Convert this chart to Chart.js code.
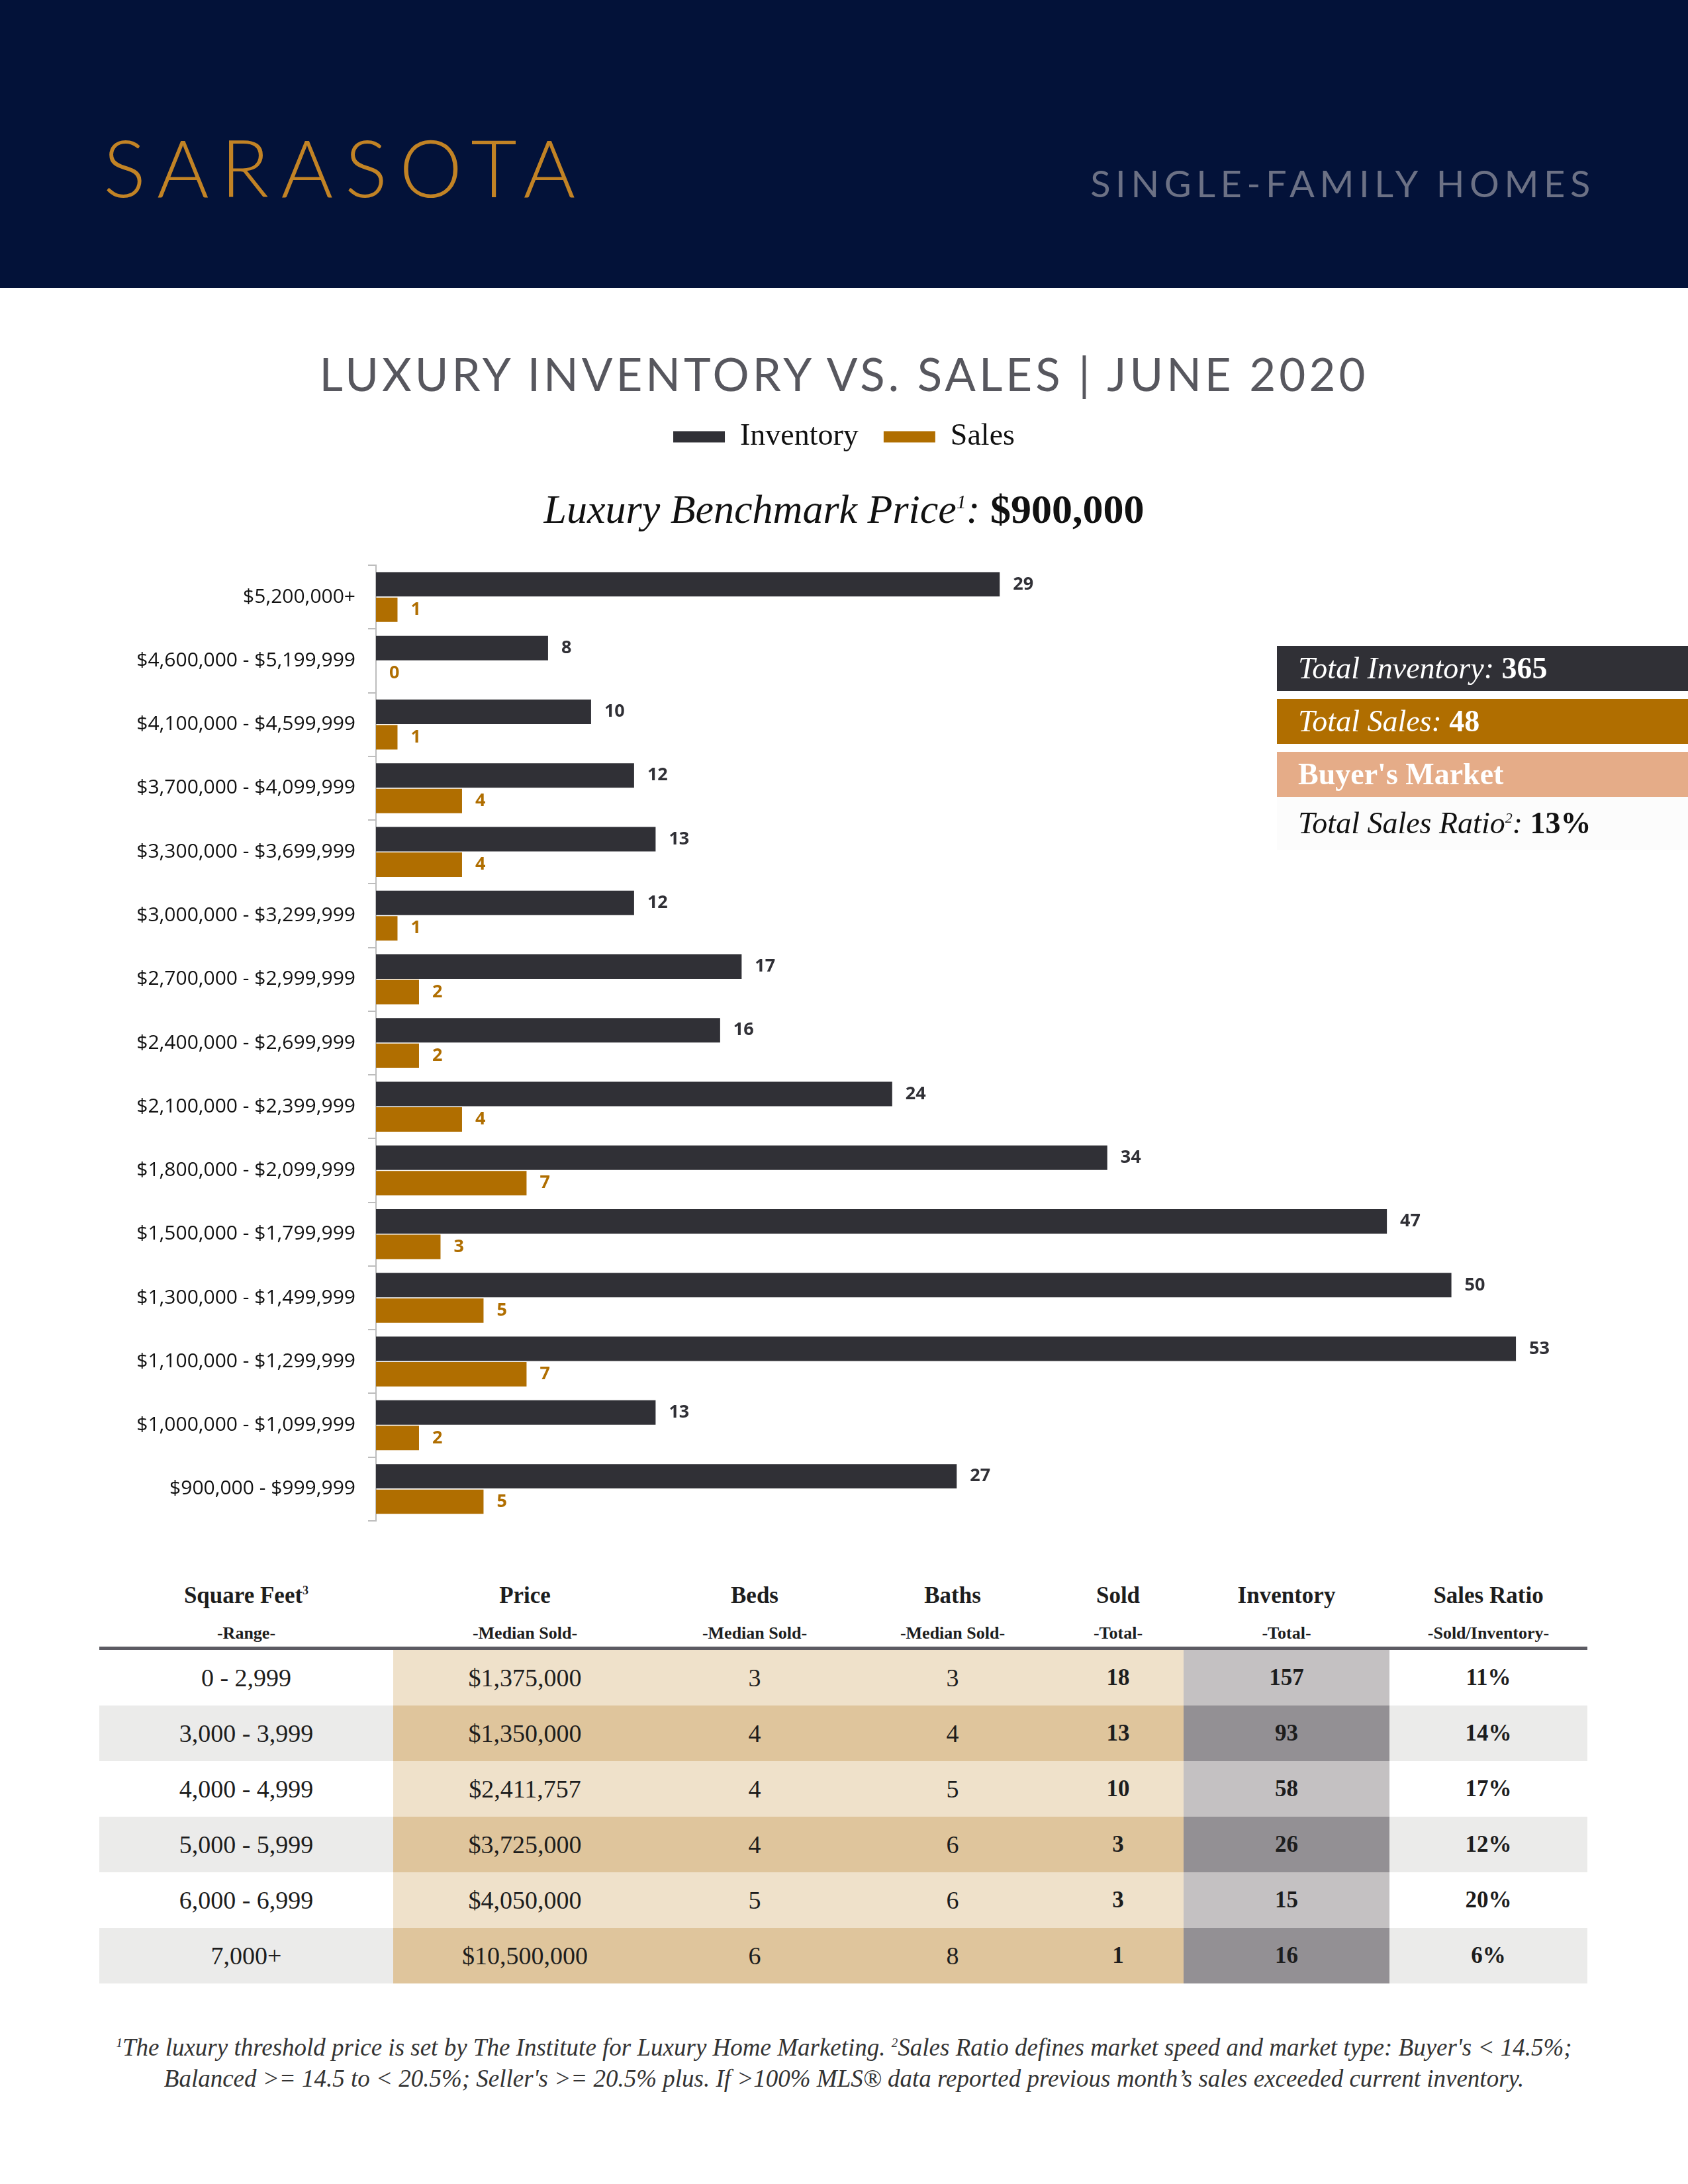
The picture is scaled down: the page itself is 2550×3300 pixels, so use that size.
<!DOCTYPE html>
<html lang="en">
<head>
<meta charset="UTF-8">
<title>Sarasota Luxury Inventory vs. Sales</title>
<script src="https://cdn.jsdelivr.net/npm/chart.js"></script>
<style>
  html, body { margin: 0; padding: 0; background: #fff; }
  #page { position: relative; width: 2550px; height: 3300px; overflow: hidden; background: #fff; }
  .abs { position: absolute; white-space: nowrap; }
  #banner { left: 0; top: 0; width: 2550px; height: 435px; background: #031239; }
  #city { left: 156px; top: 192px; font: 300 120px/120px Lato, sans-serif; letter-spacing: 18px; color: #C28325; }
  #kind { right: 140px; top: 249px; font: 400 56px/56px Lato, sans-serif; letter-spacing: 7.6px; color: #6C7185; }
  #title { left: 0; width: 2550px; text-align: center; top: 530px; font: 400 69px/69px Lato, sans-serif; letter-spacing: 5px; color: #57575E; }
  #bench { left: 0; width: 2550px; text-align: center; top: 738px; font: italic 62px/62px "Liberation Serif", serif; color: #111; }
  #bench b { font-style: normal; font-weight: 700; }
  #bench sup { font-size: 30px; line-height: 0; }
  #chart { position: absolute; left: 0; top: 599px; }
  #stats { left: 1929px; top: 976px; width: 621px; }
  #stats div { height: 68px; line-height: 68px; padding-left: 32px; margin-bottom: 12px; font: italic 46px/68px "Liberation Serif", serif; color: #fff; }
  #stats b { font-style: normal; font-weight: 700; }
  #stats sup { font-size: 22px; line-height: 0; }
  #table { left: 150px; top: 2370px; border-collapse: collapse; table-layout: fixed; }
  #table td, #table th { padding: 0; text-align: center; font-family: "Liberation Serif", serif; color: #1d1d1d; }
  #table th { border-bottom: 5px solid #5C5B63; vertical-align: top; }
  #table th .h1 { margin-top: 13px; height: 56px; line-height: 56px; font-size: 35px; font-weight: 700; }
  #table th .h1 sup { font-size: 18px; line-height: 0; }
  #table th .h2 { margin-top: 9px; height: 40px; line-height: 40px; font-size: 26px; font-weight: 700; margin-bottom: 0; }
  #table td { height: 84px; font-size: 38px; }
  #table td.bold { font-weight: 700; font-size: 35px; }
  #notes { left: 0; width: 2550px; text-align: center; top: 3070px; font: italic 37px/47px "Liberation Serif", serif; color: #333; }
  #notes sup { font-size: 19px; line-height: 0; }
</style>
</head>
<body>
<div id="page">
  <div id="banner" class="abs"></div>
  <div id="city" class="abs">SARASOTA</div>
  <div id="kind" class="abs">SINGLE-FAMILY HOMES</div>
  <div id="title" class="abs">LUXURY INVENTORY VS. SALES | JUNE 2020</div>
  <canvas id="chart" width="2550" height="1736"></canvas>
  <div id="bench" class="abs">Luxury Benchmark Price<sup>1</sup>: <b>$900,000</b></div>
  <div id="stats" class="abs"></div>
  <table id="table" class="abs"></table>
  <div id="notes" class="abs"><sup>1</sup>The luxury threshold price is set by The Institute for Luxury Home Marketing. <sup>2</sup>Sales Ratio defines market speed and market type: Buyer's &lt; 14.5%;<br>Balanced &gt;= 14.5 to &lt; 20.5%; Seller's &gt;= 20.5% plus. If &gt;100% MLS® data reported previous month’s sales exceeded current inventory.</div>
</div>

<script>
// price bands, top of chart first
const priceRanges = [
  "$5,200,000+", "$4,600,000 - $5,199,999", "$4,100,000 - $4,599,999",
  "$3,700,000 - $4,099,999", "$3,300,000 - $3,699,999", "$3,000,000 - $3,299,999",
  "$2,700,000 - $2,999,999", "$2,400,000 - $2,699,999", "$2,100,000 - $2,399,999",
  "$1,800,000 - $2,099,999", "$1,500,000 - $1,799,999", "$1,300,000 - $1,499,999",
  "$1,100,000 - $1,299,999", "$1,000,000 - $1,099,999", "$900,000 - $999,999"
];
const inventory = [29, 8, 10, 12, 13, 12, 17, 16, 24, 34, 47, 50, 53, 13, 27];
const sales     = [1, 0, 1, 4, 4, 1, 2, 2, 4, 7, 3, 5, 7, 2, 5];

// summary box
const totalInventory = 365;
const totalSales = 48;
const marketType = "Buyer's Market";
const totalRatio = "13%";

// square footage table
const sqftRanges   = ["0 - 2,999", "3,000 - 3,999", "4,000 - 4,999", "5,000 - 5,999", "6,000 - 6,999", "7,000+"];
const medianPrice  = ["$1,375,000", "$1,350,000", "$2,411,757", "$3,725,000", "$4,050,000", "$10,500,000"];
const medianBeds   = [3, 4, 4, 4, 5, 6];
const medianBaths  = [3, 4, 5, 6, 6, 8];
const soldTotal    = [18, 13, 10, 3, 3, 1];
const invTotal     = [157, 93, 58, 26, 15, 16];
const salesRatio   = ["11%", "14%", "17%", "12%", "20%", "6%"];

const INV_COLOR = '#303036';
const SALES_COLOR = '#B06E00';

// summary box
document.getElementById('stats').innerHTML =
  `<div style="background:${INV_COLOR}">Total Inventory: <b>${totalInventory}</b></div>` +
  `<div style="background:${SALES_COLOR}">Total Sales: <b>${totalSales}</b></div>` +
  `<div style="background:#E5AC88;font-style:normal;font-weight:700">${marketType}</div>` +
  `<div style="background:#FCFCFC;color:#111;margin-top:-12px;height:80px;line-height:80px">Total Sales Ratio<sup>2</sup>: <b>${totalRatio}</b></div>`;

// table
const colWidths = [444, 398, 296, 302, 198, 311, 299];
const heads = [["Square Feet<sup>3</sup>", "-Range-"], ["Price", "-Median Sold-"], ["Beds", "-Median Sold-"],
               ["Baths", "-Median Sold-"], ["Sold", "-Total-"], ["Inventory", "-Total-"], ["Sales Ratio", "-Sold/Inventory-"]];
const shades = [["#FFFFFF", "#EBEBEA"], ["#EFE1CA", "#DFC59C"], ["#EFE1CA", "#DFC59C"], ["#EFE1CA", "#DFC59C"],
                ["#EFE1CA", "#DFC59C"], ["#C4C1C2", "#939094"], ["#FFFFFF", "#EBEBEA"]];
let html = '<colgroup>' + colWidths.map(w => `<col style="width:${w}px">`).join('') + '</colgroup><tr>';
html += heads.map(h => `<th><div class="h1">${h[0]}</div><div class="h2">${h[1]}</div></th>`).join('') + '</tr>';
sqftRanges.forEach((r, i) => {
  const cells = [r, medianPrice[i], medianBeds[i], medianBaths[i], soldTotal[i], invTotal[i], salesRatio[i]];
  html += '<tr>' + cells.map((c, k) =>
    `<td class="${k >= 4 ? 'bold' : ''}" style="background:${shades[k][i % 2]}">${c}</td>`).join('') + '</tr>';
});
document.getElementById('table').innerHTML = html;

// value labels at the end of each bar
const valueLabels = {
  id: 'valueLabels',
  afterDatasetsDraw(chart) {
    const ctx = chart.ctx;
    ctx.save();
    ctx.font = 'bold 27px "Open Sans"';
    ctx.textBaseline = 'middle';
    chart.data.datasets.forEach((ds, i) => {
      ctx.fillStyle = ds.backgroundColor;
      chart.getDatasetMeta(i).data.forEach((bar, j) => {
        ctx.fillText(ds.data[j], bar.x + 20, bar.y);
      });
    });
    ctx.restore();
  }
};

// leave room under the legend for the benchmark line
const legendSpace = {
  id: 'legendSpace',
  beforeInit(chart) {
    const fit = chart.legend.fit;
    chart.legend.fit = function () {
      fit.bind(chart.legend)();
      this.height = 255;
    };
  }
};

function draw() {
  new Chart(document.getElementById('chart'), {
    type: 'bar',
    data: {
      labels: priceRanges,
      datasets: [
        { label: 'Inventory', data: inventory, backgroundColor: INV_COLOR },
        { label: 'Sales', data: sales, backgroundColor: SALES_COLOR }
      ]
    },
    options: {
      indexAxis: 'y',
      responsive: false,
      animation: false,
      categoryPercentage: 0.8,
      barPercentage: 0.96,
      layout: { padding: { left: 0, right: 0, top: 0, bottom: 12 } },
      scales: {
        x: { display: false, min: 0, max: 61 },
        y: {
          grid: { drawOnChartArea: false, tickLength: 12, color: '#BDBDBD', lineWidth: 2 },
          border: { color: '#BDBDBD', width: 2 },
          ticks: { padding: 19, color: '#111', font: { family: 'Open Sans', size: 30 } },
          afterFit(scale) { scale.width = 568; }
        }
      },
      plugins: {
        tooltip: { enabled: false },
        legend: {
          position: 'top',
          labels: {
            boxWidth: 78, boxHeight: 17, padding: 38, color: '#111',
            font: { family: 'Liberation Serif', size: 46 }
          }
        }
      }
    },
    plugins: [legendSpace, valueLabels]
  });
}

Promise.all([
  document.fonts.load('30px "Open Sans"'),
  document.fonts.load('bold 27px "Open Sans"'),
  document.fonts.load('46px "Liberation Serif"')
]).then(draw, draw);
</script>
</body>
</html>
